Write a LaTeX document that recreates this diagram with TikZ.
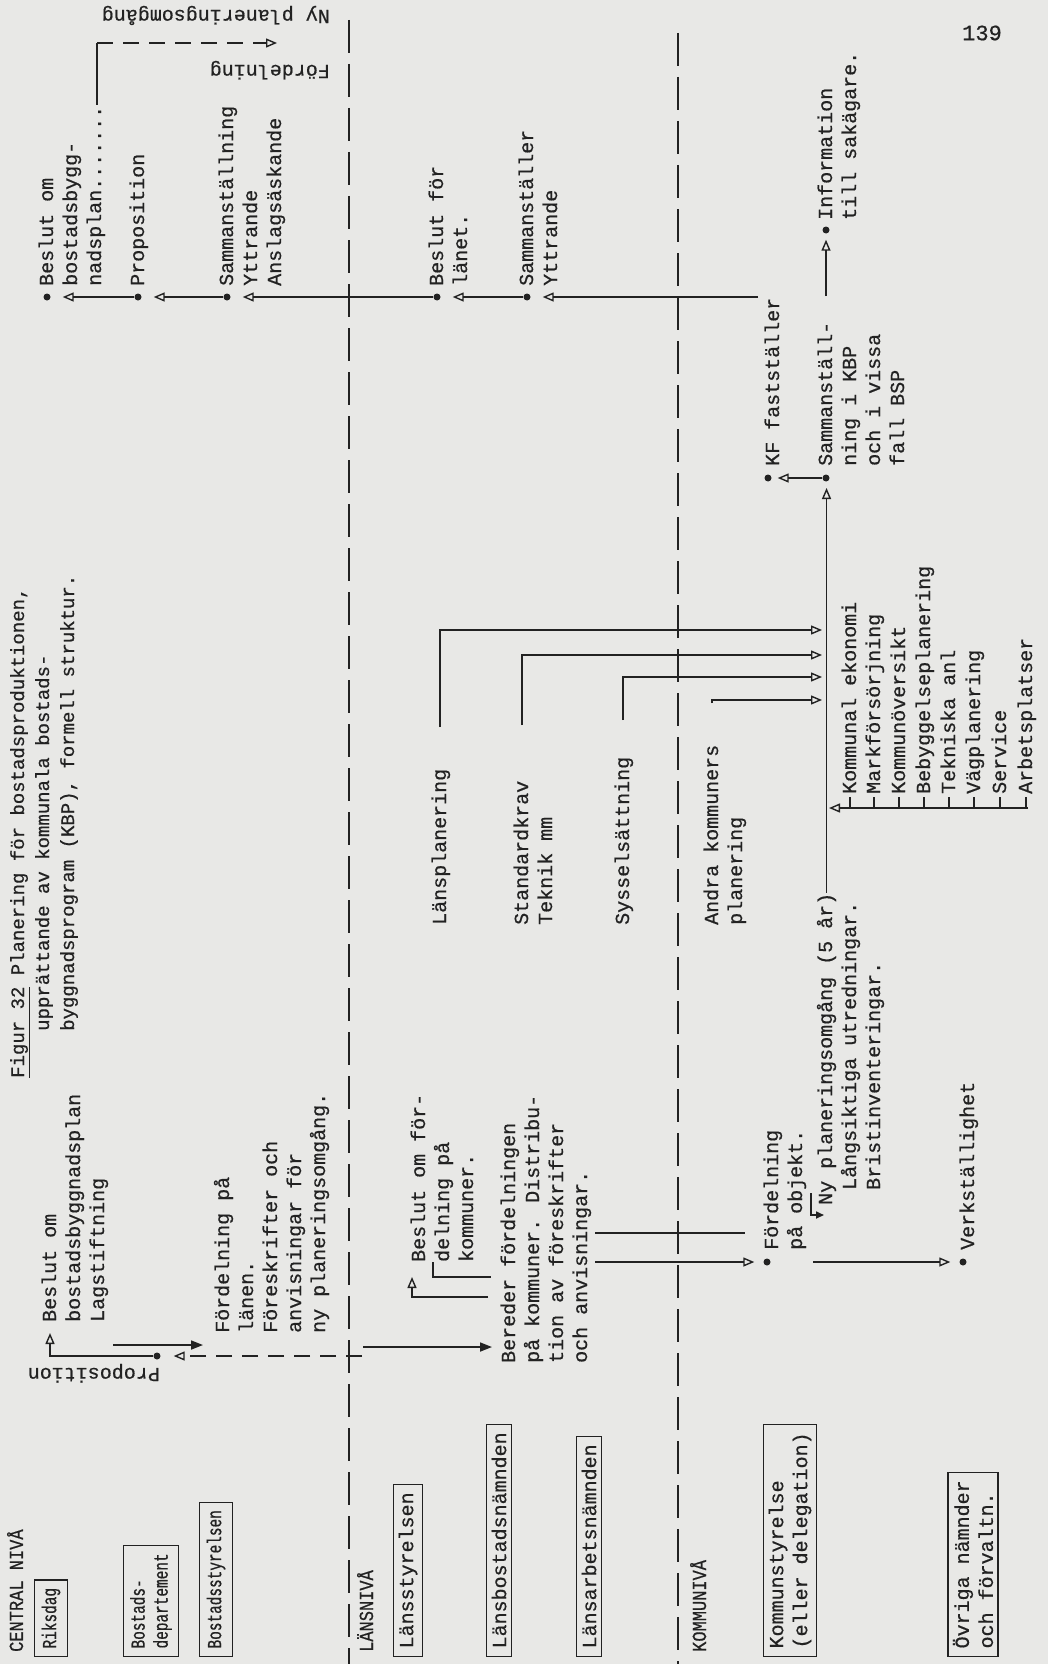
\documentclass[tikz,border=0pt]{standalone}
\usepackage{fontspec}
\setmainfont{Liberation Mono}
\usetikzlibrary{arrows.meta,calc}
\newfontfamily\typewr[FakeBold=0.6]{Liberation Mono}
\newfontfamily\typewrc[FakeBold=0.6,FakeStretch=0.85]{Liberation Mono}
\newfontfamily\typewrn[FakeBold=0.6,FakeStretch=0.72]{Liberation Mono}
\newcommand\lblfont{\typewr\fontsize{20}{24}\selectfont}
\newcommand\smlfont{\typewrn\fontsize{20}{23}\selectfont}
\newcommand\lvlfont{\typewrc\fontsize{20}{22}\selectfont}
\newcommand\ttlfont{\typewr\fontsize{19}{25}\selectfont}
% multi-line label whose baseline is that of its first line
\newcommand\ml[1]{\begin{tabular}[t]{@{}l@{}}#1\end{tabular}}
\definecolor{paper}{RGB}{232,232,230}
\definecolor{ink}{RGB}{34,34,34}

\begin{document}
\begin{tikzpicture}[x=1pt,y=-1pt,
  lbl/.style={rotate=90,anchor=base west,inner sep=0pt,font=\lblfont,text=ink},
  lvl/.style={lbl,font=\lvlfont},
  lblr/.style={rotate=180,anchor=base west,inner sep=0pt,font=\lblfont,text=ink},
  ttl/.style={rotate=90,anchor=base west,inner sep=0pt,font=\ttlfont,text=ink},
  box/.style={rotate=90,anchor=west,draw=ink,line width=1.2pt,inner xsep=8pt,inner ysep=5pt,align=left,font=\lblfont,text=ink},
  sbox/.style={box,font=\smlfont,inner ysep=7pt},
  dotn/.style={circle,fill=ink,inner sep=0pt,minimum size=7pt},
  conn/.style={draw=ink,line width=1.7pt},
  arr/.style={conn,-{Triangle[open,length=11pt,width=9pt,line width=1.4pt]}},
  farr/.style={conn,-{Triangle[length=12pt,width=9pt]}},
  darr/.style={arr,dash pattern=on 16pt off 10pt},
  levelline/.style={draw=ink,line width=1.4pt,dash pattern=on 33pt off 11pt},
]
\fill[paper] (0,0) rectangle (1048,1664);
\useasboundingbox (0,0) rectangle (1048,1664);

% page number and caption
\node[font=\typewr\fontsize{22}{22}\selectfont,text=ink] (pg) at (982,33) {139};
\node[ttl] (t1) at (24,1078) {\underline{Figur 32} Planering för bostadsproduktionen,};
\node[ttl] (t2) at (49,1031) {upprättande av kommunala bostads-};
\node[ttl] (t3) at (74,1031) {byggnadsprogram (KBP), formell struktur.};

% level separators
\coordinate (dA1) at (349,20);  \coordinate (dA2) at (349,1664);
\coordinate (dB1) at (678,33);  \coordinate (dB2) at (678,1664);
\draw[levelline] (dA1) -- (dA2);
\draw[levelline] (dB1) -- (dB2);

% level titles and organisations
\node[lvl] (cen) at (23,1652) {CENTRAL NIVÅ};
\node[sbox] (riks) at (51,1657) {Riksdag};
\node[sbox] (bdep) at (151,1657) {Bostads-\\departement};
\node[sbox] (bsty) at (216,1657) {Bostadsstyrelsen};
\node[lvl] (lan) at (373,1652) {LÄNSNIVÅ};
\node[box] (lsty) at (408,1657) {Länsstyrelsen};
\node[box] (lbos) at (499,1657) {Länsbostadsnämnden};
\node[box] (larb) at (589,1657) {Länsarbetsnämnden};
\node[lvl] (kom) at (706,1652) {KOMMUNIVÅ};
\node[box] (ksty) at (790,1657) {Kommunstyrelse\\(eller delegation)};
\node[box] (ovr) at (973,1657) {Övriga nämnder\\och förvaltn.};

% central level: proposition and decision
\node[lbl] (bz1) at (56,1322) {\ml{Beslut om\\bostadsbyggnadsplan\\Lagstiftning}};
\node[dotn] (dp) at (157,1356) {};
\node[lblr] (propl) at (160,1368) {Proposition};
\coordinate (bzin) at (50,1333);
\draw[arr] (dp) -| (bzin);
\coordinate (propin) at (362,1356);
\draw[darr,shorten >=13pt] (propin) -- (dp);
\coordinate (bzout) at (113,1345); \coordinate (fdin) at (203,1345);
\draw[farr] (bzout) -- (fdin);
\node[lbl] (fd1) at (229,1333) {\ml{Fördelning på\\länen.\\Föreskrifter och\\anvisningar för\\ny planeringsomgång.}};

% county level
\coordinate (lnA) at (363,1347); \coordinate (lnB) at (492,1347);
\draw[farr] (lnA) -- (lnB);
\node[lbl] (bk) at (425,1262) {\ml{Beslut om för-\\delning på\\kommuner.}};
\node[lbl] (ber) at (515,1363) {\ml{Bereder fördelningen\\på kommuner. Distribu-\\tion av föreskrifter\\och anvisningar.}};
\coordinate (berout) at (488,1297); \coordinate (bkin) at (412,1277);
\draw[arr] (berout) -| (bkin);
\coordinate (bkA) at (433,1262); \coordinate (bkB) at (491,1277);
\draw[conn] (bkA) |- (bkB);

% municipal level: distribution
\node[dotn] (fo) at (767,1262) {};
\node[lbl] (fol) at (778,1250) {\ml{Fördelning\\på objekt.}};
\coordinate (foin) at (595,1262);
\draw[arr,shorten >=9pt] (foin) -- (fo);
\coordinate (l1a) at (595,1233); \coordinate (l1b) at (745,1233);
\draw[conn] (l1a) -- (l1b);
\node[lbl] (np1) at (832,1205) {Ny planeringsomgång (5 år)};
\node[lbl] (np2) at (856,1190) {\ml{Långsiktiga utredningar.\\Bristinventeringar.}};
\coordinate (hkA) at (811,1193); \coordinate (hkB) at (824,1215);
\draw[conn,-{Triangle[length=8pt,width=7pt]}] (hkA) |- (hkB);
\node[dotn] (dv) at (963,1262) {};
\node[lbl] (vl) at (974,1250) {Verkställighet};
\coordinate (vin) at (813,1262);
\draw[arr,shorten >=9pt] (vin) -- (dv);

% inputs to the municipal programme
\node[lbl] (lp) at (446,925) {Länsplanering};
\node[lbl] (sk) at (528,925) {\ml{Standardkrav\\Teknik mm}};
\node[lbl] (sy) at (629,925) {Sysselsättning};
\node[lbl] (ak) at (718,925) {\ml{Andra kommuners\\planering}};
\coordinate (lpA) at (440,727); \coordinate (kin1) at (822,630);
\coordinate (skA) at (522,725); \coordinate (kin2) at (822,655);
\coordinate (syA) at (623,720); \coordinate (kin3) at (822,677);
\coordinate (akA) at (712,703); \coordinate (kin4) at (822,700);
\draw[arr] (lpA) |- (kin1);
\draw[arr] (skA) |- (kin2);
\draw[arr] (syA) |- (kin3);
\draw[arr] (akA) |- (kin4);

% KBP compilation and decisions
\node[dotn] (d7) at (826,478) {};
\node[lbl] (d7l) at (832,466) {\ml{Sammanställ-\\ning i KBP\\och i vissa\\fall BSP}};
\draw[arr,shorten >=10pt] (np1.east) -- (np1.east |- d7);
\node[dotn] (d6) at (768,478) {};
\node[lbl] (kfl) at (779,466) {KF fastställer};
\draw[arr,shorten >=6pt] (d7) -- (d6);
\coordinate (infA) at (826,296);
\node[dotn] (d8) at (826,230) {};
\node[lbl] (infl) at (832,220) {\ml{Information\\till sakägare.}};
\draw[arr,shorten >=6pt] (infA) -- (d8);

% planning topics feeding the programme
\coordinate (cbEnd) at (1028,808); \coordinate (cbTip) at (829,808);
\draw[arr] (cbEnd) -- (cbTip);
\foreach \xx/\txt [count=\i] in {850/Kommunal ekonomi,874/Markförsörjning,899/Kommunöversikt,924/Bebyggelseplanering,949/Tekniska anl,974/Vägplanering,1000/Service,1026/Arbetsplatser}{
  \draw[conn] (\xx,808) -- (\xx,797);
  \node[lbl] (topic\i) at (\xx+6,794) {\txt};
}

% feedback chain upwards
\node[dotn] (c1) at (47,297) {};
\node[lbl] (c1l) at (53,286) {\ml{Beslut om\\bostadsbygg-\\nadsplan.......}};
\node[dotn] (c2) at (138,297) {};
\node[lbl] (c2l) at (144,286) {Proposition};
\node[dotn] (c3) at (227,297) {};
\node[lbl] (c3l) at (233,286) {\ml{Sammanställning\\Yttrande\\Anslagsäskande}};
\node[dotn] (c4) at (437,297) {};
\node[lbl] (c4l) at (443,286) {\ml{Beslut för\\länet.}};
\node[dotn] (c5) at (527,297) {};
\node[lbl] (c5l) at (533,286) {\ml{Sammanställer\\Yttrande}};
\coordinate (kfout) at (758,297);
\draw[arr,shorten >=12pt] (c2) -- (c1);
\draw[arr,shorten >=12pt] (c3) -- (c2);
\draw[arr,shorten >=12pt] (c4) -- (c3);
\draw[arr,shorten >=12pt] (c5) -- (c4);
\draw[arr,shorten >=12pt] (kfout) -- (c5);

% start of the next planning round
\coordinate (nyA) at (97,105); \coordinate (nyB) at (97,43); \coordinate (nyC) at (277,43);
\draw[conn] (nyA) -- (nyB);
\draw[darr] (nyB) -- (nyC);
\node[lblr] (nyl) at (330,10) {Ny planeringsomgång};
\node[lblr] (fdl) at (330,65) {Fördelning};
\end{tikzpicture}
\end{document}
